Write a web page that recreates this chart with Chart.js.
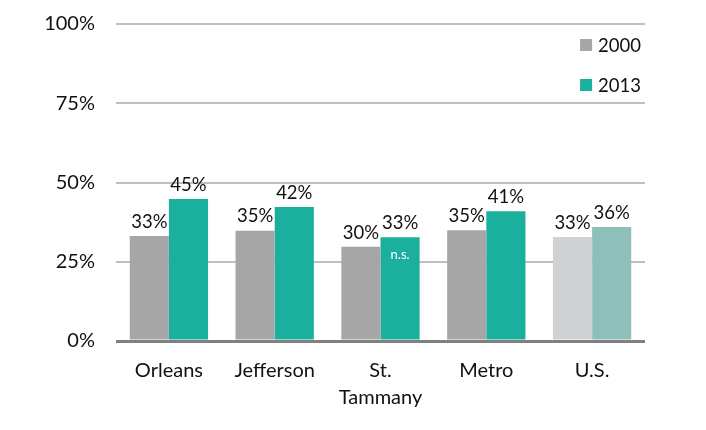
<!DOCTYPE html>
<html>
<head>
<meta charset="utf-8">
<script src="https://cdn.jsdelivr.net/npm/chart.js@4.4.1/dist/chart.umd.min.js"></script>
<style>
  body { margin: 0; background: #fff; }
  #wrap { width: 706px; height: 430px; }
</style>
</head>
<body>
<div id="wrap"><canvas id="chart" width="706" height="430"></canvas></div>
<script>
// Data
const categories = ['Orleans', 'Jefferson', ['St.', 'Tammany'], 'Metro', 'U.S.'];
const values2000 = [33.1, 34.8, 29.7, 34.9, 32.8];
const values2013 = [44.8, 42.3, 32.7, 40.9, 36.0];
const notes2013 = ['', '', 'n.s.', '', ''];
const yTicks = [0, 25, 50, 75, 100];

const FONT = "Lato, 'Liberation Sans', sans-serif";
const gray = '#a6a6a6', grayLight = '#d0d1d3';
const teal = '#1bb09d', tealLight = '#8fbfba';

// value labels above bars + n.s. note
const labelPlugin = {
    id: 'barLabels',
    afterDatasetsDraw(chart) {
        const ctx = chart.ctx;
        ctx.save();
        ctx.textAlign = 'center';
        chart.data.datasets.forEach((ds, di) => {
            const meta = chart.getDatasetMeta(di);
            meta.data.forEach((bar, i) => {
                ctx.fillStyle = '#111';
                ctx.font = '18.5px ' + FONT;
                ctx.textBaseline = 'bottom';
                ctx.fillText(Math.round(ds.data[i]) + '%', bar.x, bar.y - 5);
                if (di === 1 && notes2013[i]) {
                    ctx.fillStyle = '#fff';
                    ctx.font = '13px ' + FONT;
                    ctx.textBaseline = 'middle';
                    ctx.fillText(notes2013[i], bar.x, bar.y + 17);
                }
            });
        });
        ctx.restore();
    }
};

// legend in top right corner of the plot
const legendPlugin = {
    id: 'cornerLegend',
    afterDraw(chart) {
        const ctx = chart.ctx;
        const area = chart.chartArea;
        ctx.save();
        ctx.font = '18.5px ' + FONT;
        ctx.textBaseline = 'middle';
        ctx.textAlign = 'left';
        chart.data.datasets.forEach((ds, i) => {
            const y = area.top + 21 + i * 40;
            const w = ctx.measureText(ds.label).width;
            const tx = area.right - 4 - w;
            ctx.fillStyle = ds.backgroundColor[0];
            ctx.fillRect(tx - 18, y - 6, 12, 12);
            ctx.fillStyle = '#111';
            ctx.fillText(ds.label, tx, y + 1);
        });
        ctx.restore();
    }
};

new Chart(document.getElementById('chart'), {
    type: 'bar',
    data: {
        labels: categories,
        datasets: [
            { label: '2000', data: values2000,
              backgroundColor: values2000.map((v, i) => i === 4 ? grayLight : gray) },
            { label: '2013', data: values2013,
              backgroundColor: values2013.map((v, i) => i === 4 ? tealLight : teal) }
        ]
    },
    options: {
        responsive: false,
        animation: false,
        devicePixelRatio: 1,
        layout: { padding: { left: 0, right: 61, top: 24, bottom: 0 } },
        categoryPercentage: 0.74,
        barPercentage: 1.0,
        plugins: { legend: { display: false }, tooltip: { enabled: false } },
        scales: {
            x: {
                grid: { display: false },
                border: { display: false },
                ticks: { color: '#111', font: { family: FONT, size: 20, lineHeight: 1.35 }, padding: 8, maxRotation: 0 },
                afterFit: s => { s.height = 89; s.paddingLeft = 0; s.paddingRight = 0; }
            },
            y: {
                min: 0, max: 100,
                afterBuildTicks: s => { s.ticks = yTicks.map(v => ({ value: v })); },
                grid: {
                    drawTicks: false,
                    color: c => c.tick && c.tick.value === 0 ? '#808080' : '#bfbfbf',
                    lineWidth: c => c.tick && c.tick.value === 0 ? 3 : 2
                },
                border: { display: false },
                ticks: { color: '#111', font: { family: FONT, size: 20 }, padding: 21,
                         callback: v => v + '%' },
                afterFit: s => { s.width = 116; s.paddingTop = 0; s.paddingBottom = 0; }
            }
        }
    },
    plugins: [labelPlugin, legendPlugin]
});
</script>
</body>
</html>
